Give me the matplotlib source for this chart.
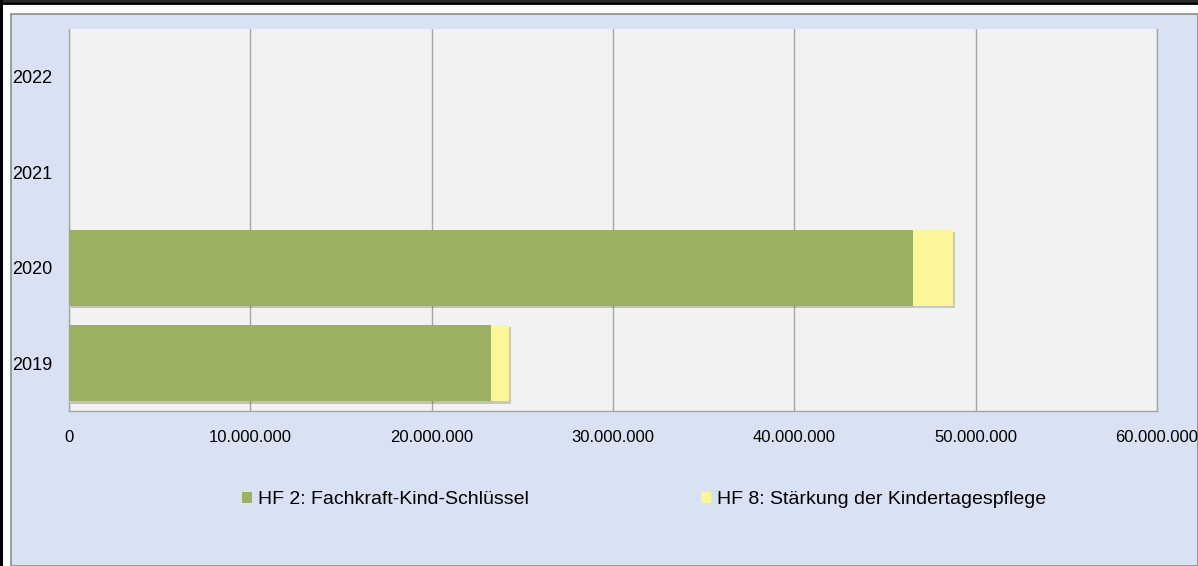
import numpy as np
import matplotlib
matplotlib.use("Agg")
import matplotlib.pyplot as plt
import matplotlib.patheffects as pe
from matplotlib.lines import Line2D
from matplotlib.patches import Rectangle
from matplotlib.ticker import FuncFormatter

plt.rcParams['font.family'] = ['Liberation Sans', 'DejaVu Sans']

# data
years = ['2019', '2020', '2021', '2022']
hf2 = [23.26e6, 46.52e6, 0, 0]
hf8 = [1.01e6, 2.24e6, 0, 0]
series_names = ['HF 2: Fachkraft-Kind-Schlüssel', 'HF 8: Stärkung der Kindertagespflege']
x_ticks = [0, 10e6, 20e6, 30e6, 40e6, 50e6, 60e6]

green = '#9BB061'
yellow = '#FDF59A'

W, H = 1198, 566
fig = plt.figure(figsize=(W / 100, H / 100), dpi=100)
fig.patch.set_facecolor('white')

# chart area background and border
fig.add_artist(Rectangle((11 / W, 0), 1 - 11 / W, 1 - 14 / H, transform=fig.transFigure,
                         facecolor='#D9E2F3', edgecolor='#8C8C8C', linewidth=1.2, zorder=0))
# black double frame at top / left edge
fig.add_artist(Line2D([0, 1], [1 - 0.7 / H, 1 - 0.7 / H], transform=fig.transFigure, color='black', lw=1.2))
fig.add_artist(Line2D([0, 1], [1 - 3.2 / H, 1 - 3.2 / H], transform=fig.transFigure, color='black', lw=2.0))
fig.add_artist(Line2D([1.2 / W, 1.2 / W], [0, 1], transform=fig.transFigure, color='black', lw=2.2))

ax = fig.add_axes([69 / W, (H - 411) / H, 1088 / W, 382 / H])
ax.set_facecolor('#F2F2F2')

y = np.arange(len(years))
shadow = [pe.SimplePatchShadow(offset=(1.5, -1.5), alpha=0.25), pe.Normal()]
b1 = ax.barh(y, hf2, height=0.8, color=green, linewidth=0, label=series_names[0], zorder=3)
b2 = ax.barh(y, hf8, left=hf2, height=0.8, color=yellow, linewidth=0, label=series_names[1], zorder=3)
for bars in (b1, b2):
    for p in bars:
        if p.get_width() > 0:
            p.set_path_effects(shadow)

ax.set_xlim(0, 60e6)
ax.set_ylim(-0.5, len(years) - 0.5)
ax.set_xticks(x_ticks)
ax.xaxis.set_major_formatter(FuncFormatter(lambda v, _: f'{int(v):,}'.replace(',', '.')))
ax.set_yticks(y)
ax.set_yticklabels(years)
ax.grid(axis='x', color='#A6A6A6', linewidth=1.0, zorder=1)
ax.set_axisbelow(True)

ax.spines['top'].set_visible(False)
for s in ['left', 'bottom', 'right']:
    ax.spines[s].set_color('#A6A6A6')
    ax.spines[s].set_linewidth(1.0)

ax.tick_params(axis='x', length=0, pad=14, labelsize=12, colors='black')
ax.tick_params(axis='y', length=0, pad=41, labelsize=13, colors='black')
for lab in ax.get_yticklabels():
    lab.set_horizontalalignment('left')

leg = fig.legend(handles=[b1, b2], loc='center left', bbox_to_anchor=(242 / W, 1 - 500 / H),
                 ncol=2, frameon=False, fontsize=14, handlelength=0.5, handleheight=0.5,
                 handletextpad=0.3, columnspacing=8.9, borderpad=0, borderaxespad=0)
for h in leg.legend_handles:
    h.set_path_effects([])

fig.savefig('out.png', dpi=100)
